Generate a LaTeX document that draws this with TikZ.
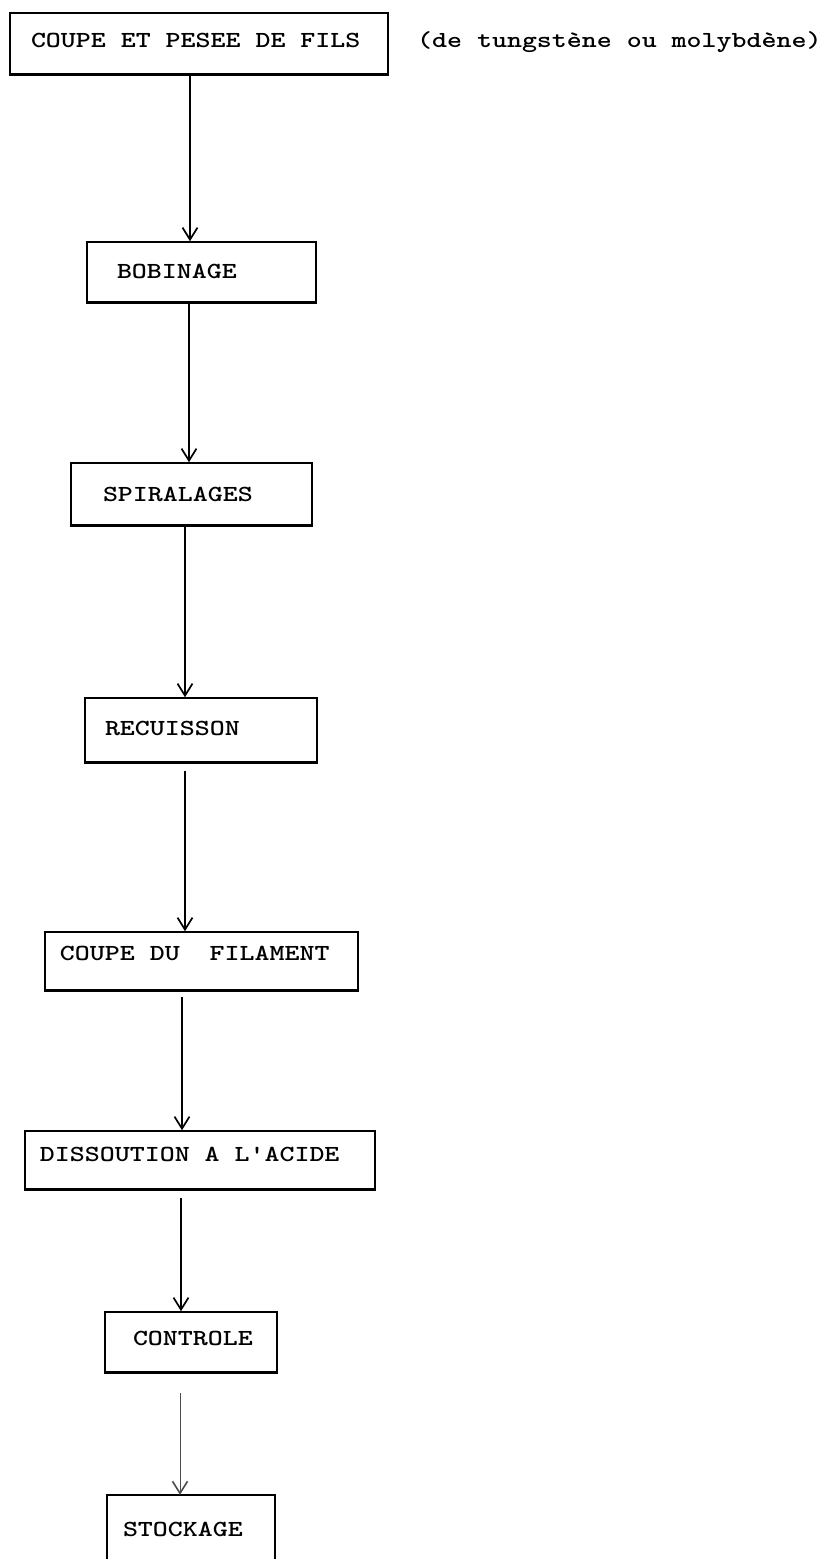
\documentclass[tikz,border=0pt]{standalone}
\usepackage{graphicx}
\usetikzlibrary{arrows.meta}

% typewriter lettering, widened to a pica pitch
\newcommand\typed[1]{\scalebox{1.24}[1]{\fontsize{23}{23}\selectfont\ttfamily\bfseries #1}}
% box label: width, left indent, vertical lift, text
\newcommand\tline[4]{\raisebox{#3}[\height][\depth]{\makebox[#1][l]{\hspace*{#2}\typed{#4}}}}

\tikzset{
  stepbox/.style={draw, line width=1.6pt, inner sep=0pt},
  bottomrule/.style={line width=3.2pt},
  flow/.style={line width=1.7pt, -{Straight Barb[length=12pt,width=15pt,line width=1.7pt]}},
  faintflow/.style={line width=0.9pt, draw=black!70, -{Straight Barb[length=12pt,width=15pt,line width=1.6pt]}, shorten <=20pt},
}

\begin{document}
\begin{tikzpicture}[x=1pt,y=-1pt]
  \useasboundingbox (0,0) rectangle (830,1559);

  % process steps
  \node[stepbox, minimum height=61pt] (b1) at (199,43.5)
    {\tline{378pt}{21pt}{3.5pt}{COUPE ET PESEE DE FILS}};
  \node[anchor=base west, inner sep=0pt] (note) at (417,47)
    {\typed{(de tungstène ou molybdène)}};

  \node[stepbox, minimum height=60pt] (b2) at (201.5,272)
    {\tline{229pt}{30pt}{1pt}{BOBINAGE}};
  \node[stepbox, minimum height=62pt] (b3) at (191.5,494)
    {\tline{241pt}{32pt}{0pt}{SPIRALAGES}};
  \node[stepbox, minimum height=64pt] (b4) at (201,730)
    {\tline{232pt}{20pt}{2pt}{RECUISSON}};
  \node[stepbox, minimum height=58pt] (b5) at (201.5,961)
    {\tline{313pt}{15pt}{8pt}{COUPE DU\ \ FILAMENT}};
  \node[stepbox, minimum height=58pt] (b6) at (200,1160)
    {\tline{350pt}{15pt}{6pt}{DISSOUTION A L'ACIDE}};
  \node[stepbox, minimum height=60pt] (b7) at (191,1342)
    {\tline{172pt}{28pt}{4pt}{CONTROLE}};
  \node[inner sep=0pt, minimum height=84pt] (b8) at (191,1537)
    {\tline{168pt}{16pt}{8pt}{STOCKAGE}};

  % heavier lower rules of the typed boxes
  \foreach \b in {b1,b2,b3,b4,b5,b6,b7}
    \draw[bottomrule] (\b.south west) -- (\b.south east);
  % last box runs off the sheet: no lower edge
  \draw[line width=1.6pt] (b8.south west) -- (b8.north west) -- (b8.north east) -- (b8.south east);

  % flow arrows
  \draw[flow] (b1.south -| 190,0) -- (b2.north -| 190,0);
  \draw[flow] (b2.south -| 189,0) -- (b3.north -| 189,0);
  \draw[flow] (b3.south -| 185,0) -- (b4.north -| 185,0);
  \draw[flow, shorten <=8pt] (b4.south -| 185,0) -- (b5.north -| 185,0);
  \draw[flow, shorten <=6pt] (b5.south -| 182,0) -- (b6.north -| 182,0);
  \draw[flow, shorten <=8pt] (b6.south -| 181,0) -- (b7.north -| 181,0);
  \draw[faintflow] (b7.south -| 180,0) -- (b8.north -| 180,0);
\end{tikzpicture}
\end{document}
